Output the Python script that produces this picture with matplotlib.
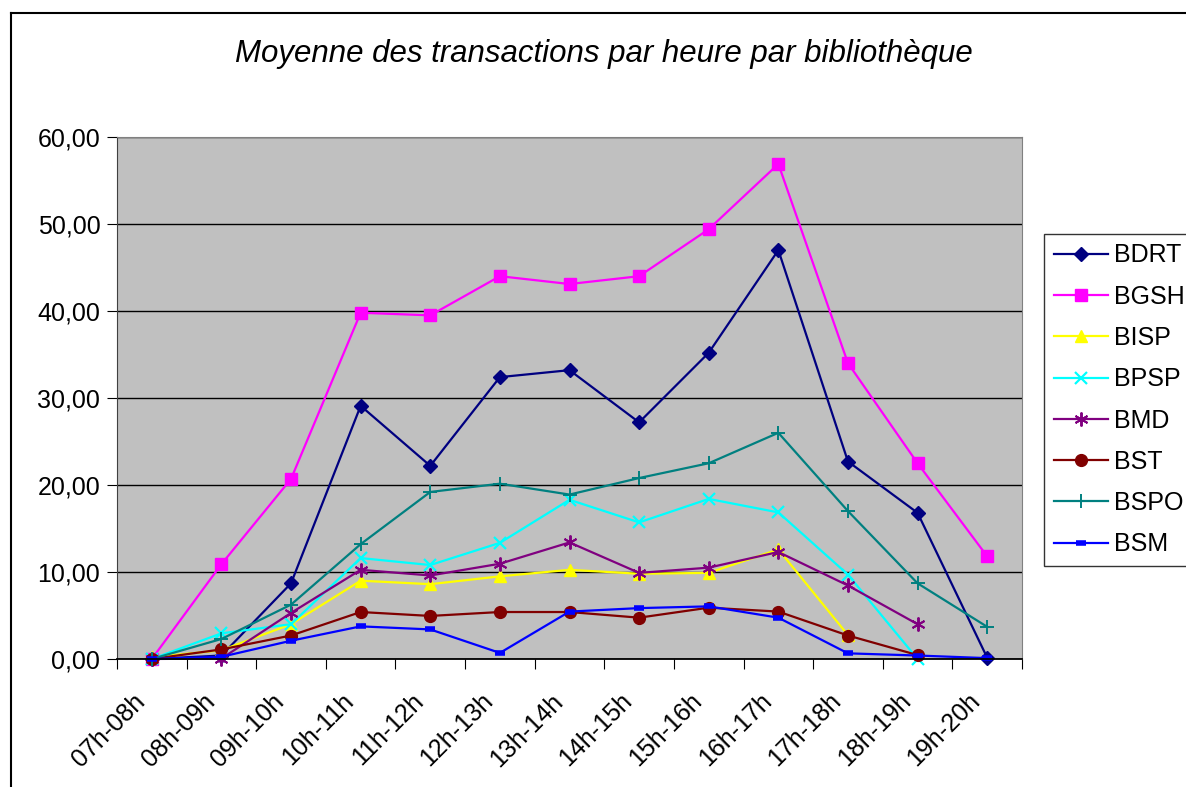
import matplotlib
matplotlib.use("Agg")
import matplotlib.pyplot as plt
import numpy as np
from matplotlib.lines import Line2D
from matplotlib.ticker import FuncFormatter, FixedLocator, NullFormatter
from matplotlib.transforms import ScaledTranslation

plt.rcParams['font.family'] = ['Liberation Sans', 'DejaVu Sans']

heures = ["07h-08h", "08h-09h", "09h-10h", "10h-11h", "11h-12h", "12h-13h", "13h-14h",
          "14h-15h", "15h-16h", "16h-17h", "17h-18h", "18h-19h", "19h-20h"]
nan = np.nan

bdrt = [0.0, 0.4, 8.7, 29.1, 22.2, 32.4, 33.2, 27.2, 35.2, 47.0, 22.7, 16.8, 0.15]
bgsh = [0.0, 10.9, 20.7, 39.8, 39.5, 44.0, 43.1, 44.0, 49.4, 56.9, 34.0, 22.5, 11.8]
bisp = [0.2, 1.0, 4.0, 9.0, 8.6, 9.5, 10.25, 9.8, 9.9, 12.6, 2.75, nan, nan]
bpsp = [0.0, 2.95, 4.0, 11.6, 10.8, 13.35, 18.3, 15.7, 18.4, 16.85, 9.7, 0.0, nan]
bmd = [0.0, 0.05, 5.3, 10.25, 9.6, 10.95, 13.4, 9.9, 10.5, 12.3, 8.45, 4.0, nan]
bst = [0.0, 1.1, 2.7, 5.4, 4.95, 5.4, 5.4, 4.75, 5.9, 5.45, 2.7, 0.45, nan]
bspo = [0.0, 2.3, 6.25, 13.2, 19.2, 20.15, 18.9, 20.8, 22.5, 26.0, 17.0, 8.7, 3.7]
bsm = [0.0, 0.25, 2.1, 3.75, 3.4, 0.7, 5.45, 5.85, 6.05, 4.75, 0.65, 0.4, 0.1]

series = [
    ("BDRT", bdrt, "#000080", dict(marker="D", ms=7.5)),
    ("BGSH", bgsh, "#FF00FF", dict(marker="s", ms=8.5)),
    ("BISP", bisp, "#FFFF00", dict(marker="^", ms=9)),
    ("BPSP", bpsp, "#00FFFF", dict(marker="x", ms=9, mew=1.6)),
    ("BMD", bmd, "#800080", dict(marker=(6, 2, 0), ms=10, mew=1.4)),
    ("BST", bst, "#800000", dict(marker="o", ms=8.5)),
    ("BSPO", bspo, "#008080", dict(marker="+", ms=10, mew=1.4)),
    ("BSM", bsm, "#0000FF", dict(marker="_", ms=7, mew=4)),
]

fig = plt.figure(figsize=(11.86, 7.87), dpi=100)
ax = fig.add_axes([117 / 1186, 1 - 659 / 787, (1022 - 117) / 1186, (659 - 137) / 787])
ax.set_facecolor("#C0C0C0")

x = np.arange(len(heures))
for nom, vals, col, mk in series:
    ax.plot(x, vals, color=col, lw=1.6, label=nom, markeredgecolor=col, markerfacecolor=col,
            clip_on=False, **mk)

ax.set_xlim(-0.5, len(heures) - 0.5)
ax.set_ylim(0, 60)
ax.set_yticks(np.arange(0, 61, 10))
ax.yaxis.set_major_formatter(FuncFormatter(lambda v, p: f"{v:.2f}".replace(".", ",")))
ax.yaxis.grid(True, color="black", lw=1.0)
ax.set_axisbelow(True)

# ticks between categories
ax.xaxis.set_major_locator(FixedLocator(np.arange(-0.5, len(heures), 1)))
ax.xaxis.set_major_formatter(NullFormatter())
ax.tick_params(axis="x", which="major", length=7, direction="out", color="black")
ax.tick_params(axis="y", length=7, direction="out", labelsize=18, pad=5)

# category labels, rotated, end just left of the category centre
decal = ax.get_xaxis_transform() + ScaledTranslation(-19 / 100, -30 / 100, fig.dpi_scale_trans)
for i, h in enumerate(heures):
    ax.text(i, 0, h, transform=decal, rotation=45, rotation_mode="anchor",
            ha="right", va="top", fontsize=18)

for s in ["top", "right"]:
    ax.spines[s].set_color("#808080")
ax.spines["left"].set_color("#404040")
ax.spines["bottom"].set_color("black")
ax.spines["bottom"].set_linewidth(1.3)

fig.text(604 / 1186, 1 - 54 / 787, "Moyenne des transactions par heure par bibliothèque",
         ha="center", va="center", fontsize=22.5, style="italic")

leg = fig.legend(loc="upper left", bbox_to_anchor=(1044 / 1186, 1 - 234 / 787), fontsize=18,
                 frameon=True, fancybox=False, edgecolor="black", borderaxespad=0,
                 handlelength=2.16, handletextpad=0.24, labelspacing=0.69, borderpad=0.38)
leg.get_frame().set_linewidth(1.0)

# outer chart border (cut off on the right and bottom)
fig.add_artist(Line2D([11 / 1186, 11 / 1186], [0, 1 - 13 / 787], color="black", lw=1.5))
fig.add_artist(Line2D([11 / 1186, 1], [1 - 13 / 787, 1 - 13 / 787], color="black", lw=1.5))

fig.savefig("out.png", dpi=100)
